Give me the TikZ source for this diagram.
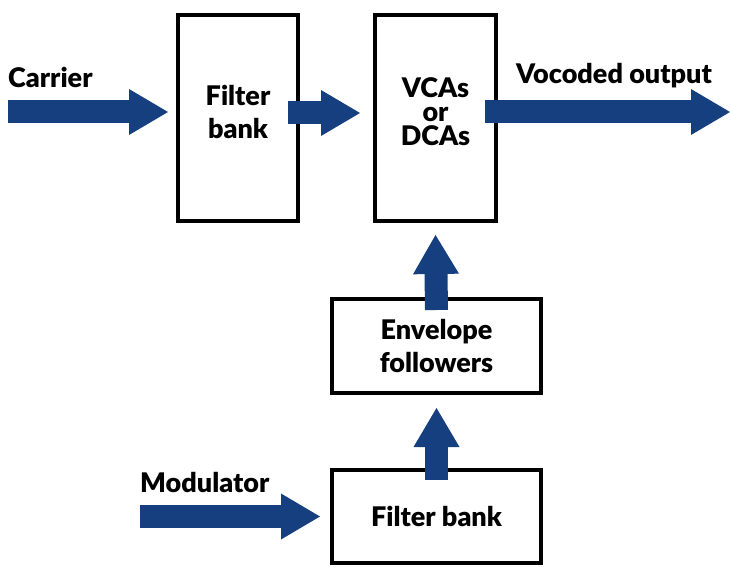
\documentclass[tikz,border=0pt]{standalone}
\usepackage{fontspec}
\setmainfont{Lato}[BoldFont={Lato Black}]
\usetikzlibrary{positioning,arrows.meta}
\definecolor{arrowblue}{RGB}{22,63,128}

\begin{document}
\begin{tikzpicture}[x=1pt, y=-1pt,
  blockbox/.style={draw=black, line width=4pt, inner sep=0pt, align=center,
    font=\bfseries\fontsize{27}{33}\selectfont},
  uptext/.style={text depth=12pt},
  bigarrow/.style={arrowblue, line width=23pt,
    -{Triangle[length=39pt, width=46pt, line width=0pt]}},
  lbl/.style={anchor=base west, inner sep=0pt, font=\bfseries\fontsize{27}{30}\selectfont}]
  % Canvas in pixels of the reference
  \useasboundingbox (0,0) rectangle (731,567);

  % Blocks
  \node[blockbox, uptext, minimum width=120pt, minimum height=206pt] (fbank) at (238,118) {Filter\\bank};
  \node[blockbox, uptext, minimum width=121pt, minimum height=206pt,
    font=\bfseries\fontsize{27}{24}\selectfont] (vca) at (435.5,118) {VCAs\\or\\DCAs};
  \node[blockbox, minimum width=209pt, minimum height=94pt] (env) at (436.5,346) {Envelope\\followers};
  \node[blockbox, minimum width=209pt, minimum height=93pt] (modbank) at (436.5,516.5) {Filter bank};

  % Free ends
  \coordinate (carrierin) at (8,112);
  \coordinate (vocout) at (730,112);
  \coordinate (modin) at (140,516.5);

  % Labels
  \node[lbl] (carrierlbl) at (8,88) {Carrier};
  \node[lbl] (outlbl) at (516,84) {Vocoded output};
  \node[lbl] (modlbl) at (140,492) {Modulator};

  % Signal arrows
  \draw[bigarrow] (carrierin) -- ([xshift=-8pt, yshift=6pt]fbank.west);
  \draw[bigarrow] ([xshift=-12pt, yshift=5pt]fbank.east) -- ([xshift=-13pt, yshift=5pt]vca.west);
  \draw[bigarrow] ([xshift=-13pt, yshift=6pt]vca.east) -- (vocout);
  \draw[bigarrow] ([yshift=-13pt]env.north) -- ([yshift=-12pt]vca.south);
  \draw[bigarrow] ([yshift=-12pt]modbank.north) -- ([yshift=-13pt]env.south);
  \draw[bigarrow] (modin) -- ([xshift=-10pt]modbank.west);
\end{tikzpicture}
\end{document}
